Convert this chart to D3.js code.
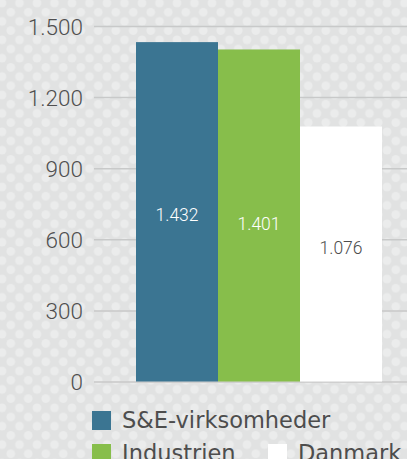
<!DOCTYPE html>
<html lang="da">

<head>
    <meta charset="UTF-8">
    <title>S&E-virksomheder</title>
    <script src="https://cdn.jsdelivr.net/npm/d3@7"></script>
    <style>
        body { margin: 0; }
        svg { display: block; }
        .tick text { font-family: Roboto, sans-serif; font-weight: 300; font-size: 22.5px; fill: #4f4f4f; }
        .tick line { stroke: #c8c9c9; stroke-width: 1.5; }
    </style>
</head>

<body>
    <svg id="main" width="407" height="459"></svg>
    <script>
        // data
        const categories = ['S&E-virksomheder', 'Industrien', 'Danmark'];
        const values = [1432, 1401, 1076];
        const colors = ['#3b7592', '#87be4b', '#ffffff'];
        const labelColors = ['#ffffff', '#ffffff', '#4d4d4d'];
        const labelShift = [3, 8, -6]; // label nudge from bar middle, px
        const tickValues = [0, 300, 600, 900, 1200, 1500];

        const W = 407, H = 459;
        const svg = d3.select('#main');

        const dk = d3.formatLocale({ decimal: ',', thousands: '.', grouping: [3], currency: ['', ' kr'] });
        const fmt = dk.format(',d');

        // background with dot pattern
        const defs = svg.append('defs');
        const pat = defs.append('pattern')
            .attr('id', 'dots')
            .attr('patternUnits', 'userSpaceOnUse')
            .attr('width', 17.5)
            .attr('height', 18.4)
            .attr('x', 2)
            .attr('y', 3);
        pat.append('rect').attr('width', 17.5).attr('height', 18.4).attr('fill', '#e1e2e2');
        [[0, 0], [17.5, 0], [0, 18.4], [17.5, 18.4], [8.75, 9.2]].forEach(p => {
            pat.append('circle').attr('cx', p[0]).attr('cy', p[1]).attr('r', 4.4).attr('fill', '#ebecec');
        });
        svg.append('rect').attr('width', W).attr('height', H).attr('fill', 'url(#dots)');

        // scales
        const y = d3.scaleLinear().domain([0, 1500]).range([381.5, 26]);
        const x = d3.scaleBand().domain(categories).range([136, 382]).padding(0);

        const axisX = 94;
        const yAxis = svg.append('g')
            .attr('transform', `translate(${axisX},0)`)
            .call(d3.axisLeft(y).tickValues(tickValues).tickFormat(fmt).tickSize(-(W - axisX)).tickPadding(11));
        yAxis.select('.domain').remove();
        yAxis.selectAll('.tick text').attr('dy', '0.36em');

        // bars
        svg.selectAll('.bar')
            .data(values)
            .enter()
            .append('rect')
            .attr('class', 'bar')
            .attr('x', (d, i) => x(categories[i]))
            .attr('y', d => y(d))
            .attr('width', x.bandwidth())
            .attr('height', d => y(0) - y(d))
            .attr('fill', (d, i) => colors[i]);

        // value labels
        svg.selectAll('.lbl')
            .data(values)
            .enter()
            .append('text')
            .attr('class', 'lbl')
            .attr('x', (d, i) => x(categories[i]) + x.bandwidth() / 2)
            .attr('y', (d, i) => y(d / 2) + labelShift[i])
            .attr('dy', '0.35em')
            .attr('text-anchor', 'middle')
            .attr('font-family', 'Roboto, sans-serif')
            .attr('font-weight', 300)
            .attr('font-size', '17.5px')
            .attr('fill', (d, i) => labelColors[i])
            .text(d => fmt(d));

        // legend
        const legendPos = [[92, 411], [92, 444], [268, 444]];
        const legend = svg.selectAll('.leg')
            .data(categories)
            .enter()
            .append('g')
            .attr('class', 'leg')
            .attr('transform', (d, i) => `translate(${legendPos[i][0]},${legendPos[i][1]})`);
        legend.append('rect')
            .attr('width', 19)
            .attr('height', 19)
            .attr('fill', (d, i) => colors[i]);
        legend.append('text')
            .attr('x', 30)
            .attr('y', 17.3)
            .attr('font-family', '"DejaVu Sans", sans-serif')
            .attr('font-size', '22.5px')
            .attr('fill', '#4d4d4d')
            .text(d => d);
    </script>
</body>

</html>
